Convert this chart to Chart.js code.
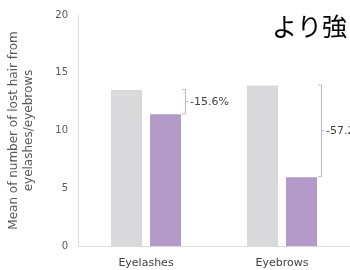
<!DOCTYPE html>
<html>
<head>
<meta charset="utf-8">
<script src="https://cdn.jsdelivr.net/npm/chart.js@4"></script>
<style>
  html, body { margin: 0; padding: 0; background: #fff; overflow: hidden; }
  #wrap { width: 350px; height: 270px; }
</style>
</head>
<body>
<div id="wrap"><canvas id="chart" width="350" height="270"></canvas></div>
<script>
const categories = ["Eyelashes", "Eyebrows"];
const baselineValues = [13.5, 13.9];
const treatedValues = [11.4, 5.95];
const yTicks = [0, 5, 10, 15, 20];
const axisTitle = ["Mean of number of lost hair from", "eyelashes/eyebrows"];
const headline = "より強";

const FONT = "'DejaVu Sans', Verdana, sans-serif";

// bracket with % change between the two bars of each category
const bracketPlugin = {
  id: "brackets",
  afterDatasetsDraw(chart) {
    const ctx = chart.ctx;
    const grey = chart.getDatasetMeta(0).data;
    const purple = chart.getDatasetMeta(1).data;
    ctx.save();
    categories.forEach((c, i) => {
      const g = grey[i];
      const p = purple[i];
      const x = p.x + p.width / 2 + 4;
      const yTop = g.y - 1;
      const yBot = p.y;
      const yMid = (yTop + yBot) / 2;
      ctx.strokeStyle = "#c8b0dc";
      ctx.lineWidth = 1;
      ctx.beginPath();
      ctx.moveTo(x - 3, yTop + 0.5);
      ctx.lineTo(x + 0.5, yTop + 0.5);
      ctx.lineTo(x + 0.5, yBot - 0.5);
      ctx.lineTo(x - 3, yBot - 0.5);
      ctx.moveTo(x + 0.5, yMid);
      ctx.lineTo(x + 3.5, yMid);
      ctx.stroke();
      const pct = ((treatedValues[i] - baselineValues[i]) / baselineValues[i]) * 100;
      ctx.fillStyle = "#404040";
      ctx.font = "11px " + FONT;
      ctx.textAlign = "left";
      ctx.textBaseline = "middle";
      ctx.fillText(pct.toFixed(1) + "%", x + 5, yMid);
    });
    // headline text, partly cut off at the right edge
    ctx.fillStyle = "#000";
    ctx.font = "25px 'Noto Sans CJK JP', sans-serif";
    ctx.textAlign = "left";
    ctx.textBaseline = "middle";
    ctx.fillText(headline, 272, 26);
    ctx.restore();
  },
};

new Chart(document.getElementById("chart"), {
  type: "bar",
  data: {
    labels: categories,
    datasets: [
      {
        label: "Baseline",
        data: baselineValues,
        backgroundColor: "#d9d9db",
        barPercentage: 0.795,
        categoryPercentage: 0.574,
      },
      {
        label: "Treated",
        data: treatedValues,
        backgroundColor: "#b399c7",
        barPercentage: 0.795,
        categoryPercentage: 0.574,
      },
    ],
  },
  options: {
    responsive: false,
    animation: false,
    layout: { padding: { top: 15, right: 0, left: 7, bottom: 0 } },
    plugins: {
      legend: { display: false },
      tooltip: { enabled: false },
    },
    scales: {
      x: {
        grid: { display: false },
        border: { color: "#d9d9d9" },
        ticks: { color: "#404040", font: { family: FONT, size: 11 }, padding: 3 },
        afterFit: (axis) => { axis.height = 24; },
      },
      y: {
        min: 0,
        max: 20,
        afterBuildTicks: (axis) => { axis.ticks = yTicks.map((v) => ({ value: v })); },
        grid: { display: false },
        border: { color: "#d9d9d9" },
        ticks: { color: "#595959", font: { family: FONT, size: 10 }, padding: 2 },
        title: {
          display: true,
          text: axisTitle,
          color: "#595959",
          font: { family: FONT, size: 12, lineHeight: 1.2 },
          padding: 0,
        },
        afterFit: (axis) => { axis.width = 71; },
      },
    },
  },
  plugins: [bracketPlugin],
});
</script>
</body>
</html>
